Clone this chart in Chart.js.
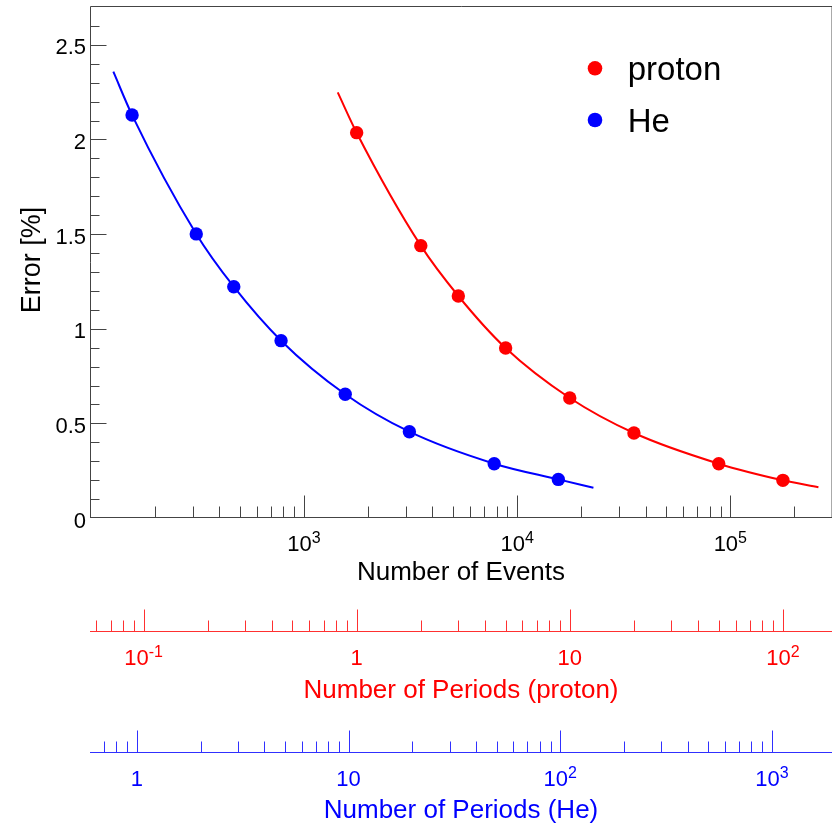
<!DOCTYPE html>
<html>
<head>
<meta charset="utf-8">
<title>Error vs Number of Events</title>
<script src="https://cdn.jsdelivr.net/npm/chart.js@4.4.1/dist/chart.umd.min.js"></script>
<style>
    html, body { margin: 0; padding: 0; background: #fff; }
    #canvas { display: block; }
</style>
</head>
<body>
<canvas id="canvas" width="832" height="826"></canvas>
<script>
var FONT = '"Liberation Sans", Arial, Helvetica, sans-serif';
var RED = '#ff0000';
var BLUE = '#0000ff';

// axis ranges
var xMin = 99, xMax = 3e5;
var yMin = 0, yMax = 2.7;

// events collected in one period
var protonPerPeriod = 1765;
var hePerPeriod = 156;

// measured points
var protonEvents = [1765, 3530, 5295, 8825, 17650, 35300, 88250, 176500];
var protonError = [2.036, 1.439, 1.173, 0.898, 0.634, 0.449, 0.287, 0.199];
var heEvents = [156, 312, 468, 780, 1560, 3120, 7800, 15600];
var heError = [2.129, 1.501, 1.222, 0.937, 0.654, 0.456, 0.287, 0.204];

// fitted curves
var protonFitEvents = [1439, 1765, 3530, 5295, 8825, 17650, 35300, 88250, 176500, 259100];
var protonFitError = [2.249, 2.036, 1.439, 1.173, 0.898, 0.634, 0.449, 0.287, 0.199, 0.162];
var heFitEvents = [127.4, 156, 312, 468, 780, 1560, 3120, 7800, 15600, 22790];
var heFitError = [2.358, 2.129, 1.501, 1.222, 0.937, 0.654, 0.456, 0.287, 0.204, 0.160];

// tick labels
var yTickValues = [0, 0.5, 1, 1.5, 2, 2.5];
var yTickLabels = ['0', '0.5', '1', '1.5', '2', '2.5'];
var eventTickValues = [1e3, 1e4, 1e5];
var eventTickLabels = [['10', '3'], ['10', '4'], ['10', '5']];
var protonTickValues = [0.1, 1, 10, 100];
var protonTickLabels = [['10', '-1'], ['1', ''], ['10', ''], ['10', '2']];
var heTickValues = [1, 10, 100, 1000];
var heTickLabels = [['1', ''], ['10', ''], ['10', '2'], ['10', '3']];

function points(xs, ys) {
    return xs.map(function(x, i) { return { x: x, y: ys[i] }; });
}

// "10" with a raised exponent, centred on x
function powerLabel(ctx, x, y, base, exp, color) {
    ctx.fillStyle = color;
    ctx.textAlign = 'left';
    ctx.textBaseline = 'alphabetic';
    ctx.font = '22px ' + FONT;
    var wb = ctx.measureText(base).width;
    ctx.font = '16px ' + FONT;
    var we = exp ? ctx.measureText(exp).width : 0;
    var x0 = x - (wb + we) / 2;
    ctx.font = '22px ' + FONT;
    ctx.fillText(base, x0, y);
    if (exp) {
        ctx.font = '16px ' + FONT;
        ctx.fillText(exp, x0 + wb, y - 8.5);
    }
}

// log axis with ticks pointing up, root style
function logAxis(ctx, scale, axisY, lineColor, textColor, values, labels, title, titleY) {
    ctx.save();
    ctx.strokeStyle = lineColor;
    ctx.lineWidth = 1;
    ctx.beginPath();
    ctx.moveTo(scale.left, axisY + 0.5);
    ctx.lineTo(scale.right, axisY + 0.5);
    var lo = Math.floor(Math.log10(scale.min)), hi = Math.ceil(Math.log10(scale.max));
    for (var e = lo; e <= hi; e++) {
        for (var k = 1; k <= 9; k++) {
            var v = k * Math.pow(10, e);
            if (v < scale.min || v > scale.max) continue;
            var px = scale.getPixelForValue(v);
            if (px < scale.left + 2 || px > scale.right - 1) continue;
            var x = Math.round(px) + 0.5;
            ctx.moveTo(x, axisY + 0.5);
            ctx.lineTo(x, axisY + 0.5 - (k === 1 ? 22 : 11));
        }
    }
    ctx.stroke();
    for (var i = 0; i < values.length; i++) {
        powerLabel(ctx, scale.getPixelForValue(values[i]), axisY + 34, labels[i][0], labels[i][1], textColor);
    }
    ctx.font = '26px ' + FONT;
    ctx.fillStyle = textColor;
    ctx.textAlign = 'center';
    ctx.fillText(title, (scale.left + scale.right) / 2, titleY);
    ctx.restore();
}

var rootAxes = {
    id: 'rootAxes',
    afterDraw: function(chart) {
        var ctx = chart.ctx, a = chart.chartArea;
        var sy = chart.scales.y;

        // frame
        ctx.save();
        ctx.lineWidth = 1;
        ctx.strokeStyle = '#444';
        ctx.beginPath();
        ctx.moveTo(a.left + 0.5, a.bottom);
        ctx.lineTo(a.left + 0.5, a.top - 0.5);
        ctx.lineTo(a.right, a.top - 0.5);
        ctx.stroke();
        ctx.strokeStyle = '#aaa';
        ctx.beginPath();
        ctx.moveTo(a.right - 0.5, a.top);
        ctx.lineTo(a.right - 0.5, a.bottom);
        ctx.stroke();

        // y ticks
        ctx.strokeStyle = '#444';
        ctx.beginPath();
        for (var i = 1; i < 27; i++) {
            var y = Math.round(sy.getPixelForValue(i / 10)) + 0.5;
            ctx.moveTo(a.left + 0.5, y);
            ctx.lineTo(a.left + 0.5 + (i % 5 === 0 ? 16 : 9), y);
        }
        ctx.stroke();
        ctx.fillStyle = '#000';
        ctx.font = '22px ' + FONT;
        ctx.textAlign = 'right';
        ctx.textBaseline = 'alphabetic';
        yTickValues.forEach(function(v, j) {
            ctx.fillText(yTickLabels[j], 86, sy.getPixelForValue(v) + 9.5);
        });

        // y title
        ctx.save();
        ctx.translate(40, 260);
        ctx.rotate(-Math.PI / 2);
        ctx.font = '27px ' + FONT;
        ctx.textAlign = 'center';
        ctx.fillText('Error [%]', 0, 0);
        ctx.restore();
        ctx.restore();

        logAxis(ctx, chart.scales.x, a.bottom - 1, '#444', '#000', eventTickValues, eventTickLabels, 'Number of Events', 580);
        logAxis(ctx, chart.scales.xProton, 631, '#ff3030', RED, protonTickValues, protonTickLabels, 'Number of Periods (proton)', 698);
        logAxis(ctx, chart.scales.xHe, 752, '#3030ff', BLUE, heTickValues, heTickLabels, 'Number of Periods (He)', 818);

        // legend
        ctx.save();
        var rows = [[chart.data.datasets[0], 68.3], [chart.data.datasets[1], 120]];
        rows.forEach(function(r) {
            ctx.fillStyle = r[0].backgroundColor;
            ctx.beginPath();
            ctx.arc(595, r[1], 7.3, 0, Math.PI * 2);
            ctx.fill();
            ctx.fillStyle = '#000';
            ctx.font = '33px ' + FONT;
            ctx.textAlign = 'left';
            ctx.textBaseline = 'alphabetic';
            ctx.fillText(r[0].label, 627.7, r[1] + 11.7);
        });
        ctx.restore();
    }
};

window.onload = function() {
    var ctx = document.getElementById('canvas').getContext('2d');
    window.myChart = new Chart(ctx, {
        type: 'scatter',
        data: {
            datasets: [{
                label: 'proton',
                data: points(protonEvents, protonError),
                backgroundColor: RED,
                borderColor: RED,
                pointRadius: 6.7,
                pointHoverRadius: 6.7,
                borderWidth: 0,
                order: 0
            }, {
                label: 'He',
                data: points(heEvents, heError),
                backgroundColor: BLUE,
                borderColor: BLUE,
                pointRadius: 6.7,
                pointHoverRadius: 6.7,
                borderWidth: 0,
                order: 0
            }, {
                label: 'proton fit',
                data: points(protonFitEvents, protonFitError),
                borderColor: RED,
                borderWidth: 2,
                pointRadius: 0,
                showLine: true,
                cubicInterpolationMode: 'monotone',
                order: 1
            }, {
                label: 'He fit',
                data: points(heFitEvents, heFitError),
                borderColor: BLUE,
                borderWidth: 2,
                pointRadius: 0,
                showLine: true,
                cubicInterpolationMode: 'monotone',
                order: 1
            }]
        },
        options: {
            responsive: false,
            animation: false,
            events: [],
            layout: {
                autoPadding: false,
                padding: { left: 90, top: 7, right: 0, bottom: 308 }
            },
            plugins: {
                legend: { display: false },
                tooltip: { enabled: false }
            },
            scales: {
                x: { type: 'logarithmic', min: xMin, max: xMax, display: false },
                y: { type: 'linear', min: yMin, max: yMax, display: false },
                xProton: { type: 'logarithmic', position: 'bottom', min: xMin / protonPerPeriod, max: xMax / protonPerPeriod, display: false },
                xHe: { type: 'logarithmic', position: 'bottom', min: xMin / hePerPeriod, max: xMax / hePerPeriod, display: false }
            }
        },
        plugins: [rootAxes]
    });
};
</script>
</body>
</html>
